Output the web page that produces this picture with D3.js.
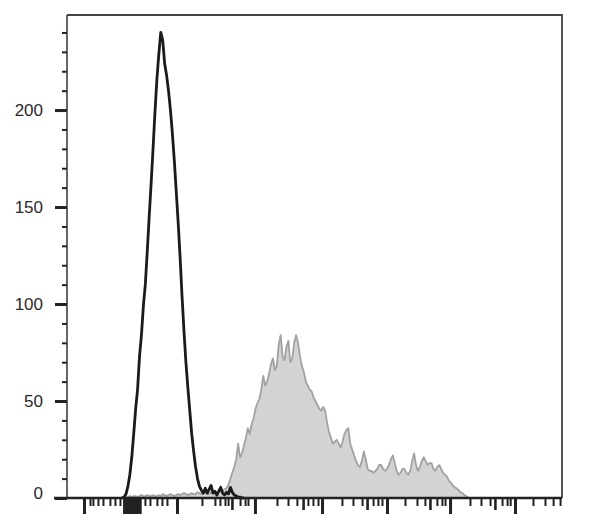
<!DOCTYPE html>
<html>
<head>
<meta charset="utf-8">
<script src="https://cdn.jsdelivr.net/npm/d3@7"></script>
<style>
  body { margin: 0; background: #fff; }
  svg { display: block; }
  .ylab text { font-family: "Liberation Sans", Arial, sans-serif; font-size: 17px; fill: #2a2a2a; }
</style>
</head>
<body>
<div id="chart"></div>
<script>

var width = 590,
    height = 529;

// histogram counts per channel bin (256 bins on the display axis)
var blackStart = 28;
var blackCounts = [0, 0.5, 2, 6, 12, 21, 33, 46, 56, 73,
  84, 99, 110, 127, 145, 162, 180, 199, 216, 229,
  240, 236, 224, 218, 210, 200, 188, 174, 158, 142,
  124, 104, 86, 70, 57, 45, 33, 24, 16, 10,
  6, 4, 2.5, 5, 2.5, 4.5, 6.5, 2.5, 3.5, 1.5,
  3.5, 5.5, 2.5, 1.5, 3, 2, 5.5, 3, 1.5, 1,
  0.5, 0.5, 0, 0];

var grayStart = 30;
var grayCounts = [0, 0.5, 1, 0.5, 1, 1, 0.5, 1, 1.5, 1,
  1, 1.5, 1, 1, 1.5, 1, 1, 1.5, 1, 2,
  1.5, 1, 1.5, 2, 1.5, 1, 1.5, 2, 1.5, 2,
  2.5, 2, 1.5, 2, 2.5, 2, 2, 3, 2.5, 2,
  2.5, 3, 2.5, 2, 3, 3.5, 3, 2.5, 3, 3.5,
  4, 4.5,
  5, 7, 10, 13, 16, 20, 28, 21, 23, 27,
  31, 36, 33, 38, 41, 46, 49, 51, 56, 63,
  58, 60, 64, 69, 72, 66, 68, 79, 84, 73,
  71, 78, 81, 70, 72, 80, 84, 80, 73, 68,
  65, 60, 58, 56, 55, 52, 50, 48, 46, 45,
  47, 45, 39, 34, 31, 28, 29, 30, 28, 26,
  29, 33, 35, 36, 28, 25, 22, 19, 17, 16,
  19, 24, 20, 15, 14, 14, 13, 14, 15, 17,
  17, 15, 14, 15, 17, 20, 22, 18, 14, 12,
  13, 15, 15, 13, 12, 14, 19, 23, 17, 14,
  16, 19, 21, 19, 17, 18, 18, 15, 14, 16,
  17, 15, 13, 12, 11, 9, 8, 6.5, 5.5, 5,
  4, 3, 2.5, 1.5, 1, 0];

// y axis ticks
var yMajor = [0, 50, 100, 150, 200];
var yMinor = [10, 20, 30, 40, 60, 70, 80, 90, 110, 120, 130, 140,
  160, 170, 180, 190, 210, 220, 230, 240];

// x axis ticks (channel units), biexponential display
var xLong = [8.8, 56.9, 97.2, 131.9, 165.5, 198.1, 231.7,
  29.5, 30.6, 31.8, 33.0, 34.1, 35.3, 36.5, 37.6];
var xMedium = [85.3, 122.1, 155.2, 187.7, 221.3];
var xMinor = [11.9, 13.4, 16.0, 18.6, 22.2, 24.8, 27.4,
  40.3, 42.9, 46.5, 49.1, 51.7,
  69.8, 76.5, 79.1, 81.7, 83.3, 89.5, 92.1, 93.6,
  108.6, 114.3, 118.9, 124.6, 127.2, 129.8,
  142.2, 147.9, 152.6, 158.3, 160.8, 162.9,
  174.8, 181.0, 185.1, 191.3, 193.9, 195.5,
  208.4, 214.1, 218.8, 225.0, 227.6, 229.2,
  241.0, 247.2, 251.4, 255.0];

function toBins(start, counts){
  return counts.map(function(c, i){ return {bin: start + i + 0.5, count: c}; });
}

var black = toBins(blackStart, blackCounts);
var gray = toBins(grayStart, grayCounts);

var x = d3.scaleLinear()
  .domain([0, 256])
  .range([67, 562]);

var y = d3.scaleLinear()
  .domain([0, 249])
  .range([498, 15]);

var svg = d3.select("#chart").append("svg")
  .attr("width", width)
  .attr("height", height);

// gray filled histogram behind
var area = d3.area()
  .x(function(d){ return x(d.bin); })
  .y0(y(0))
  .y1(function(d){ return y(d.count); });

svg.append("path")
  .datum(gray)
  .attr("d", area)
  .attr("fill", "#d3d3d3")
  .attr("stroke", "#a2a2a2")
  .attr("stroke-width", 1.8)
  .attr("stroke-linejoin", "round");

var line = d3.line()
  .x(function(d){ return x(d.bin); })
  .y(function(d){ return y(d.count); });

svg.append("path")
  .datum(black)
  .attr("d", line)
  .attr("fill", "none")
  .attr("stroke", "#1a1a1a")
  .attr("stroke-width", 2.8)
  .attr("stroke-linejoin", "round");

// frame: top and right
svg.append("path")
  .attr("d", "M" + x(0) + "," + y(249) + "H" + x(256) + "V" + y(0))
  .attr("fill", "none")
  .attr("stroke", "#444")
  .attr("stroke-width", 1.8);

// y axis
var yMinorAxis = svg.append("g")
  .attr("transform", "translate(" + x(0) + ",0)")
  .call(d3.axisLeft(y).tickValues(yMinor).tickSize(5).tickFormat(""));
yMinorAxis.selectAll("line").attr("stroke", "#222").attr("stroke-width", 2);
yMinorAxis.select(".domain").remove();

var yMajorAxis = svg.append("g")
  .attr("class", "ylab")
  .attr("transform", "translate(" + x(0) + ",0)")
  .call(d3.axisLeft(y).tickValues(yMajor).tickSize(12).tickPadding(12));
yMajorAxis.selectAll("line").attr("stroke", "#222").attr("stroke-width", 3);
yMajorAxis.select(".domain").remove();
yMajorAxis.selectAll("text")
  .attr("dy", function(d){ return d == 0 ? "0" : "0.32em"; });

svg.append("line")
  .attr("x1", x(0)).attr("x2", x(0))
  .attr("y1", y(249)).attr("y2", y(0))
  .attr("stroke", "#333")
  .attr("stroke-width", 1.5);

// x axis: three tick lengths
function xTicks(vals, size, w){
  var g = svg.append("g")
    .attr("transform", "translate(0," + y(0) + ")")
    .call(d3.axisBottom(x).tickValues(vals).tickSize(size).tickFormat(""));
  g.select(".domain").remove();
  g.selectAll("line").attr("stroke", "#222").attr("stroke-width", w);
}
xTicks(xMinor, 8, 2);
xTicks(xMedium, 12, 2.6);
xTicks(xLong, 16, 3);

svg.append("line")
  .attr("x1", 54).attr("x2", x(256))
  .attr("y1", y(0)).attr("y2", y(0))
  .attr("stroke", "#222")
  .attr("stroke-width", 2.5);

</script>
</body>
</html>
